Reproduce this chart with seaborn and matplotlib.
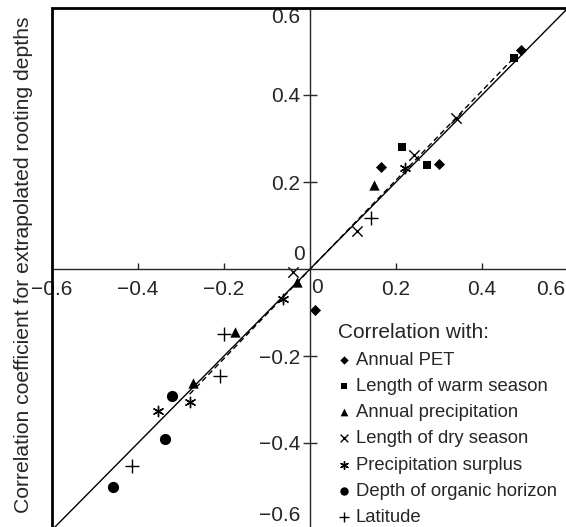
import numpy as np
import matplotlib
matplotlib.use("Agg")
import matplotlib.pyplot as plt
import matplotlib.transforms as mtransforms
import seaborn as sns
import pandas as pd
from matplotlib.patches import Rectangle

pet_x = [0.491, 0.166, 0.300, 0.012]
pet_y = [0.504, 0.234, 0.242, -0.094]
warm_x = [0.475, 0.213, 0.272]
warm_y = [0.486, 0.281, 0.240]
precip_x = [0.149, -0.031, -0.175, -0.273]
precip_y = [0.193, -0.029, -0.145, -0.262]
dry_x = [0.339, 0.241, 0.110, -0.039]
dry_y = [0.348, 0.261, 0.087, -0.007]
surplus_x = [0.220, -0.062, -0.280, -0.353]
surplus_y = [0.232, -0.069, -0.305, -0.326]
organic_x = [-0.321, -0.338, -0.459]
organic_y = [-0.293, -0.390, -0.500]
lat_x = [0.142, -0.200, -0.210, -0.414]
lat_y = [0.118, -0.150, -0.247, -0.452]

names = ["Annual PET", "Length of warm season", "Annual precipitation",
         "Length of dry season", "Precipitation surplus",
         "Depth of organic horizon", "Latitude"]
xs = [pet_x, warm_x, precip_x, dry_x, surplus_x, organic_x, lat_x]
ys = [pet_y, warm_y, precip_y, dry_y, surplus_y, organic_y, lat_y]
markers = ["D", "s", "^", "x", (6, 2, 0), "o", "+"]
sizes = [32, 40, 55, 55, 55, 65, 95]

# x range over which the fitted (dashed) line is drawn
fit_range = [-0.28, 0.48]

df = pd.concat([pd.DataFrame({"x": a, "y": b, "var": n}) for a, b, n in zip(xs, ys, names)])

sns.set_theme(style="white")
plt.rcParams["font.family"] = ["Liberation Sans", "DejaVu Sans"]

fig = plt.figure(figsize=(5.66, 5.27), dpi=100)
ax = fig.add_axes([52/566, -3/527, 516/566, 522/527])

ax.plot([-0.6, 0.6], [-0.6, 0.6], color="black", lw=1)
slope, icpt = np.polyfit(df["x"], df["y"], 1)
fx = np.array(fit_range)
sns.lineplot(x=fx, y=slope*fx + icpt, color="black", lw=1, ls=(0, (4, 2.5)), ax=ax)

for n, m, s in zip(names, markers, sizes):
    sub = df[df["var"] == n]
    if m in ["x", "+", (6, 2, 0)]:
        sns.scatterplot(data=sub, x="x", y="y", marker=m, s=s, color="black",
                        linewidth=1, label=n, ax=ax)
    else:
        sns.scatterplot(data=sub, x="x", y="y", marker=m, s=s, color="black",
                        edgecolor="black", linewidth=0, label=n, ax=ax)

ax.set_xlim(-0.6, 0.6)
ax.set_ylim(-0.6, 0.6)
ax.set_xlabel("")
ax.set_ylabel("")

for side in ["left", "bottom"]:
    ax.spines[side].set_position(("data", 0))
    ax.spines[side].set_linewidth(1)
ax.spines["top"].set_visible(False)
ax.spines["right"].set_visible(False)
ax.add_patch(Rectangle((0, 0), 1, 1, transform=ax.transAxes, fill=False,
                       lw=2, edgecolor="black", clip_on=False, zorder=5))

xt = [-0.6, -0.4, -0.2, 0.2, 0.4, 0.6]
tl = ["\u22120.6", "\u22120.4", "\u22120.2", "0.2", "0.4", "0.6"]
ax.set_xticks(xt)
ax.set_xticklabels(tl)
ax.set_yticks(xt)
ax.set_yticklabels(tl)
ax.tick_params(axis="x", direction="in", length=4.5, width=1, pad=8, labelsize=15, bottom=True)
ax.tick_params(axis="y", direction="inout", length=10, width=1, pad=2, labelsize=15, left=True)
xl = ax.get_xticklabels()
xl[-1].set_horizontalalignment("right")
xl[-1].set_transform(xl[-1].get_transform() + mtransforms.ScaledTranslation(-3/100, 0, fig.dpi_scale_trans))
yl = ax.get_yticklabels()
yl[-1].set_verticalalignment("top")
yl[0].set_verticalalignment("bottom")
yl[0].set_transform(yl[0].get_transform() + mtransforms.ScaledTranslation(0, 5/100, fig.dpi_scale_trans))
ax.text(-0.012, 0.012, "0", ha="right", va="bottom", fontsize=15)
ax.text(0.003, -0.02, "0", ha="left", va="top", fontsize=15)

leg = ax.legend(loc="upper left", bbox_to_anchor=(0.539, 0.41), frameon=False,
                title="Correlation with:", fontsize=13.3, title_fontsize=15,
                alignment="left", handlelength=0.65, handletextpad=0.35,
                labelspacing=0.5, borderaxespad=0, markerscale=0.75)

fig.text(24/566, 0.497, "Correlation coefficient for extrapolated rooting depths",
         rotation=90, ha="center", va="center", fontsize=15.2)

fig.savefig("out.png", dpi=100)
